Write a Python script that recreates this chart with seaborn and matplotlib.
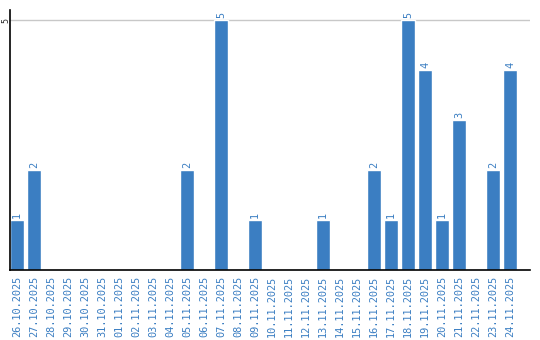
import matplotlib
matplotlib.use("Agg")
import matplotlib.pyplot as plt
import seaborn as sns
import pandas as pd

dates = ["26.10.2025", "27.10.2025", "28.10.2025", "29.10.2025", "30.10.2025",
         "31.10.2025", "01.11.2025", "02.11.2025", "03.11.2025", "04.11.2025",
         "05.11.2025", "06.11.2025", "07.11.2025", "08.11.2025", "09.11.2025",
         "10.11.2025", "11.11.2025", "12.11.2025", "13.11.2025", "14.11.2025",
         "15.11.2025", "16.11.2025", "17.11.2025", "18.11.2025", "19.11.2025",
         "20.11.2025", "21.11.2025", "22.11.2025", "23.11.2025", "24.11.2025"]
values = [1, 2, 0, 0, 0, 0, 0, 0, 0, 0,
          2, 0, 5, 0, 1, 0, 0, 0, 1, 0,
          0, 2, 1, 5, 4, 1, 3, 0, 2, 4]

sns.set_style("white")
plt.rcParams['font.family'] = ['DejaVu Sans Mono', 'DejaVu Sans']

blue = "#3b7ec2"
df = pd.DataFrame({"date": dates, "value": values})

fig = plt.figure(figsize=(5.4, 3.4), dpi=100)
ax = fig.add_axes([10/540, 70/340, 520/540, 260/340])
sns.barplot(data=df, x="date", y="value", color=blue, saturation=1, width=0.82, ax=ax)

for i, v in enumerate(values):
    if v > 0:
        ax.text(i, v + 0.05, str(v), rotation=90, ha="center", va="bottom",
                color=blue, fontsize=7.4)

ax.set_ylim(0, 5.2)
ax.set_xlim(-0.41, 30.17)
ax.set_yticks([5])
ax.set_yticklabels(["5"], rotation=90, va="center", ha="right", fontsize=6)
ax.yaxis.grid(True, color="#c8c8c8", linewidth=1)
ax.set_axisbelow(True)
ax.set_xticks(range(len(dates)))
ax.set_xticklabels(dates, rotation=90, color=blue, fontsize=7.4)
ax.tick_params(axis="x", length=0, pad=4)
ax.tick_params(axis="y", length=0, pad=0)
ax.set_xlabel("")
ax.set_ylabel("")
for s in ["top", "right"]:
    ax.spines[s].set_visible(False)
for s in ["left", "bottom"]:
    ax.spines[s].set_color("black")
    ax.spines[s].set_linewidth(1.2)

fig.savefig("out.png", dpi=100)
